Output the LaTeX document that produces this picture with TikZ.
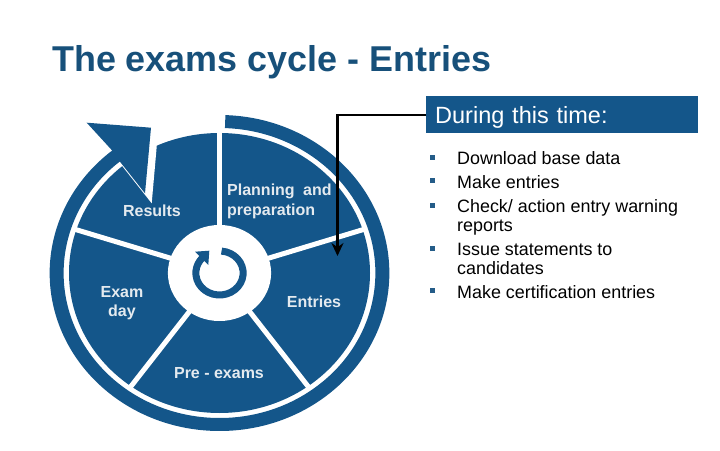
\documentclass[tikz,border=0pt]{standalone}
\usepackage{fontspec}
\setmainfont{Liberation Sans}
\usetikzlibrary{arrows.meta}
\definecolor{examblue}{HTML}{14568A}
\definecolor{titleblue}{HTML}{17507A}
\definecolor{wheeltext}{HTML}{E4EAEF}
\tikzset{
    wheellabel/.style={font=\bfseries\fontsize{16}{19}\selectfont,text=wheeltext,align=center,inner sep=0pt},
    itemtext/.style={font=\fontsize{17.9}{19}\selectfont,anchor=base west,inner sep=0pt},
    itembullet/.style={fill=examblue!85!gray,minimum size=5pt,inner sep=0pt}
}

\begin{document}
\begin{tikzpicture}[x=1pt,y=1pt]
    \useasboundingbox (0,0) rectangle (720,450);

    \node [font=\bfseries\fontsize{35.9}{40}\selectfont,text=titleblue,anchor=base west,inner sep=0pt] (title) at (52,378) {The exams cycle - Entries};

    % wheel
    \begin{scope}[shift={(219.5,177)},xscale=1.075]
        \fill [examblue] (0,0) circle (140);
        \foreach \ang in {90,18,-54,-126,162}
            \draw [white,line width=5pt] (0,0)--(\ang:146);
        \fill [white] (0,0) circle (48);
    \end{scope}
    \fill [white] (119,288)--(151.7,246.7)--(156.7,303.3)--(156,330)--(110,330)--cycle;
    \begin{scope}[shift={(219.5,177)},xscale=1.075]
        \fill [examblue] (88:158) arc (88:-231:158)--(-231:145) arc (-231:88:145)--cycle;
        \draw [examblue,line width=7pt] (85:22) arc (85:-225:22);
    \end{scope}
    \fill [examblue] (111.7,300)--(86.7,327.3)--(151,322.3)--(145,256.7)--(120,288.3)--cycle;
    \fill [examblue] (195,198.3)--(209.3,199.3)--(208.3,185)--cycle;

    \node [wheellabel] (results) at (152,239) {Results};
    \node [wheellabel,anchor=base west] (planning) at (227,254) {Planning\hspace{4pt} and};
    \node [wheellabel,anchor=base west] (preparation) at (227,234) {preparation};
    \node [wheellabel] (entries) at (314,148) {Entries};
    \node [wheellabel] (preexams) at (219,77) {Pre - exams};
    \node [wheellabel] (examday) at (122,147) {Exam\\day};

    % box and items
    \node [fill=examblue,text=white,font=\fontsize{23.5}{26}\selectfont,anchor=north west,minimum width=272pt,minimum height=37pt,text width=254pt,text depth=0pt,inner sep=0pt] (during) at (426,354) {During this time:};
    \coordinate (tip) at (337.5,194);
    \draw [-{Stealth[length=13pt,width=12pt]},black,line width=2.2pt] (during.west) -| (tip);

    \node [itembullet] (b1) at (432,292) {};
    \node [itembullet] (b2) at (432,269) {};
    \node [itembullet] (b3) at (432,244.5) {};
    \node [itembullet] (b4) at (432,201) {};
    \node [itembullet] (b5) at (432,159) {};

    \node [itemtext] (i1) at (457,285.5) {Download base data};
    \node [itemtext] (i2) at (457,261.5) {Make entries};
    \node [itemtext] (i3) at (457,237) {Check/ action entry warning};
    \node [itemtext] (i3b) at (457,218.5) {reports};
    \node [itemtext] (i4) at (457,194.5) {Issue statements to};
    \node [itemtext] (i4b) at (457,175.5) {candidates};
    \node [itemtext] (i5) at (457,151.5) {Make certification entries};
\end{tikzpicture}
\end{document}
